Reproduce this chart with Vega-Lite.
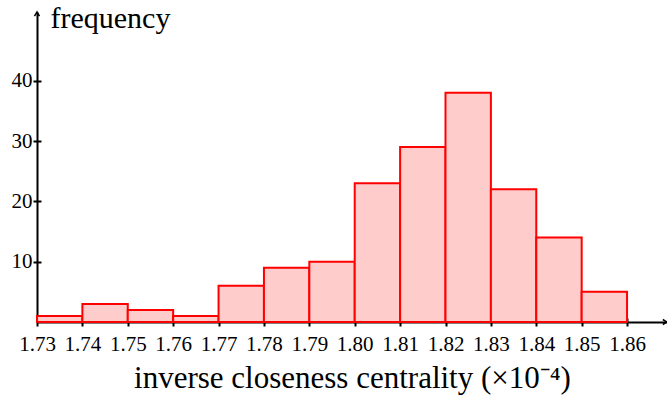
{
  "$schema": "https://vega.github.io/schema/vega-lite/v6.json",
  "width": 630,
  "height": 310,
  "autosize": "none",
  "padding": {"left": 37, "top": 12, "right": 0, "bottom": 78},
  "background": "white",
  "config": {
    "view": {"stroke": null},
    "font": "Liberation Serif",
    "axis": {"grid": false, "zindex": 1, "domainColor": "black", "tickColor": "black", "labelColor": "black", "titleColor": "black", "labelFont": "Liberation Serif", "titleFont": "Liberation Serif", "titleFontWeight": "normal"}
  },
  "datasets": {
    "bins": [
      {"start": 1.73, "end": 1.74, "count": 1},
      {"start": 1.74, "end": 1.75, "count": 3},
      {"start": 1.75, "end": 1.76, "count": 2},
      {"start": 1.76, "end": 1.77, "count": 1},
      {"start": 1.77, "end": 1.78, "count": 6},
      {"start": 1.78, "end": 1.79, "count": 9},
      {"start": 1.79, "end": 1.80, "count": 10},
      {"start": 1.80, "end": 1.81, "count": 23},
      {"start": 1.81, "end": 1.82, "count": 29},
      {"start": 1.82, "end": 1.83, "count": 38},
      {"start": 1.83, "end": 1.84, "count": 22},
      {"start": 1.84, "end": 1.85, "count": 14},
      {"start": 1.85, "end": 1.86, "count": 5}
    ],
    "arrows": [
      {"ax": 1.8688, "ay": 0, "dir": "right"},
      {"ax": 1.73, "ay": 51.4, "dir": "up"}
    ]
  },
  "layer": [
    {
      "data": {"name": "bins"},
      "mark": {"type": "rect", "fill": "#ffcccc", "stroke": "#ff0000", "strokeWidth": 2},
      "encoding": {
        "x": {"field": "start", "type": "quantitative", "scale": {"domain": [1.73, 1.8688], "nice": false, "zero": false},
          "axis": {"values": [1.73,1.74,1.75,1.76,1.77,1.78,1.79,1.80,1.81,1.82,1.83,1.84,1.85,1.86], "format": ".2f", "tickSize": 4, "tickWidth": 2, "domainWidth": 2, "labelFontSize": 21, "labelPadding": 7, "labelFlush": false, "labelOverlap": false,
            "title": "inverse closeness centrality (×10⁻⁴)", "titleFontSize": 31, "titlePadding": 9}},
        "x2": {"field": "end"},
        "y": {"field": "count", "type": "quantitative", "scale": {"domain": [0, 51.4], "nice": false},
          "axis": {"values": [10, 20, 30, 40], "tickSize": 4, "tickWidth": 2, "domainWidth": 2, "labelFontSize": 21, "labelPadding": 1,
            "title": "frequency", "titleFontSize": 30, "titleAngle": 0, "titleAlign": "left", "titleBaseline": "alphabetic", "titleX": 13, "titleY": 15}},
        "y2": {"datum": 0}
      }
    },
    {
      "data": {"name": "bins"},
      "mark": {"type": "rule", "color": "black", "strokeWidth": 2},
      "encoding": {
        "x": {"field": "start", "type": "quantitative", "axis": {"values": [1.73,1.74,1.75,1.76,1.77,1.78,1.79,1.80,1.81,1.82,1.83,1.84,1.85,1.86], "tickSize": -4, "tickWidth": 2, "labels": false, "domain": false, "title": null, "orient": "bottom"}},
        "y": {"datum": 0, "type": "quantitative", "axis": {"values": [10, 20, 30, 40], "tickSize": -4, "tickWidth": 2, "labels": false, "domain": false, "title": null, "orient": "left"}},
        "y2": {"datum": 0}
      }
    },
    {
      "data": {"name": "arrows"},
      "transform": [{"filter": "datum.dir === 'right'"}],
      "mark": {"type": "point", "shape": "M-1,-0.6L0,0L-1,0.6", "filled": false, "stroke": "black", "strokeWidth": 1.5, "size": 70, "opacity": 1},
      "encoding": {"x": {"field": "ax", "type": "quantitative", "axis": null}, "y": {"field": "ay", "type": "quantitative", "axis": null}}
    },
    {
      "data": {"name": "arrows"},
      "transform": [{"filter": "datum.dir === 'up'"}],
      "mark": {"type": "point", "shape": "M-0.6,1L0,0L0.6,1", "filled": false, "stroke": "black", "strokeWidth": 1.5, "size": 70, "opacity": 1},
      "encoding": {"x": {"field": "ax", "type": "quantitative", "axis": null}, "y": {"field": "ay", "type": "quantitative", "axis": null}}
    }
  ],
  "resolve": {"axis": {"x": "independent", "y": "independent"}}
}
